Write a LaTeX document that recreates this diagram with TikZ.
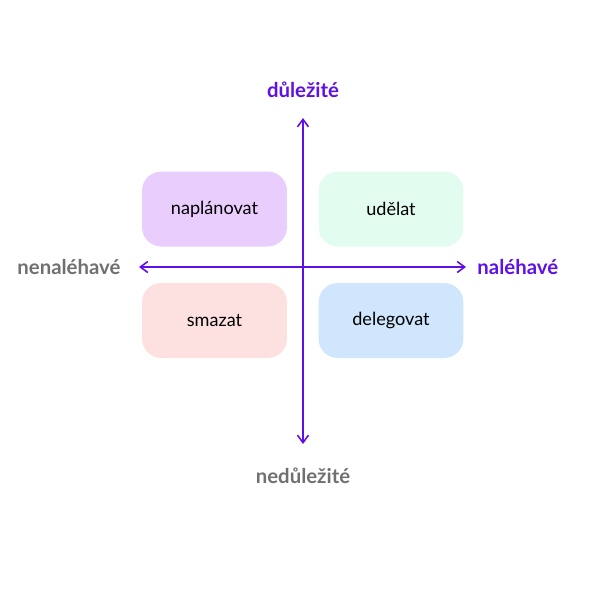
\documentclass[tikz,border=0pt]{standalone}
\usepackage{fontspec}
\setmainfont{Lato}
\usepackage{xcolor}
\usetikzlibrary{arrows.meta, positioning}

\definecolor{axispurple}{HTML}{6010E6}
\definecolor{labelgray}{HTML}{707070}
\definecolor{planfill}{HTML}{E9CDFD}
\definecolor{dofill}{HTML}{E2FCF0}
\definecolor{dropfill}{HTML}{FDE1E1}
\definecolor{delegfill}{HTML}{D0E6FD}

\begin{document}
\begin{tikzpicture}[
    x=0.02cm, y=-0.02cm,
    >={Straight Barb[length=1.5mm, width=2.2mm]},
    every node/.style={font=\small},
    quadrant/.style={
        rounded corners=11pt,
        minimum width=2.9cm,
        minimum height=1.5cm,
        align=center,
        font=\fontsize{10.3}{12}\selectfont
    },
    axis/.style={<->, draw=axispurple, line width=0.9pt},
    axis label/.style={
        font=\fontsize{11.6}{13}\selectfont\bfseries
    }
]
\useasboundingbox (0,0) rectangle (600,600);

% Centre and the four quadrants
\coordinate (origin) at (303,267);
\node[quadrant, fill=planfill]  (plan)     at (214.5,209) {naplánovat};
\node[quadrant, fill=dofill]    (doit)     at (391,209)   {udělat};
\node[quadrant, fill=dropfill]  (drop)     at (214.5,320.5) {smazat};
\node[quadrant, fill=delegfill] (delegate) at (391,320.5) {delegovat};

% Axis ends
\coordinate (top)    at (303,118);
\coordinate (bottom) at (303,444);
\coordinate (left)   at (139,267);
\coordinate (right)  at (466,267);

\draw[axis] (bottom) -- (top);
\draw[axis] (left) -- (right);

% Axis labels
\node[axis label, text=axispurple, above=8pt of top]     (important)    {důležité};
\node[axis label, text=labelgray, below=10pt of bottom]  (unimportant)  {nedůležité};
\node[axis label, text=labelgray, left=7pt of left]      (notpressing)  {nenaléhavé};
\node[axis label, text=axispurple, right=3pt of right]   (pressing)     {naléhavé};

\end{tikzpicture}
\end{document}
